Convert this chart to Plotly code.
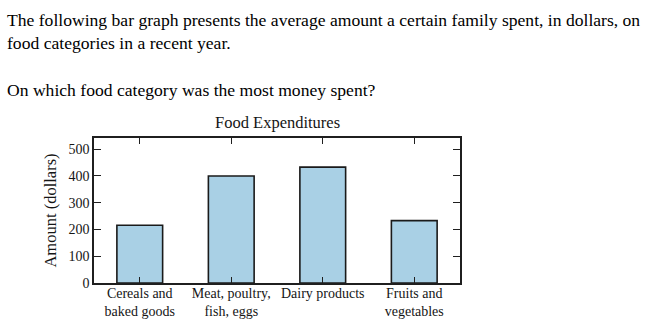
import plotly.graph_objects as go

categories = ["Cereals and<br>baked goods", "Meat, poultry,<br>fish, eggs", "Dairy products", "Fruits and<br>vegetables"]
amounts = [216, 400, 433, 233]
y_ticks = [0, 100, 200, 300, 400, 500]
chart_title = "Food Expenditures"
y_title = "Amount (dollars)"
intro_line1 = "The following bar graph presents the average amount a certain family spent, in dollars, on"
intro_line2 = "food categories in a recent year."
question = "On which food category was the most money spent?"

W, H = 650, 325
L, R, T, B = 94, 460, 138, 283
pw, ph = R - L, B - T

def px_x(x):
    return (x - L) / pw

def px_y(y):
    return (B - y) / ph

serif = "Liberation Serif"
axis_color = "#1f1f1f"
text_color = "#151515"

fig = go.Figure(go.Bar(
    x=list(range(len(categories))),
    y=amounts,
    width=0.5,
    marker=dict(color="#a9d0e5", line=dict(color="#1a1a1a", width=1.6)),
))

fig.update_layout(
    width=W, height=H,
    margin=dict(l=L, r=W - R, t=T, b=H - B, pad=0, autoexpand=False),
    paper_bgcolor="white", plot_bgcolor="white",
    showlegend=False,
    font=dict(family=serif, color=text_color),
)

fig.update_xaxes(
    range=[-0.5, 3.5],
    tickmode="array",
    tickvals=list(range(len(categories))),
    ticktext=categories,
    ticks="inside", ticklen=6, tickwidth=1.3, tickcolor=axis_color,
    showline=True, linecolor=axis_color, linewidth=1.6, mirror="allticks",
    showgrid=False, zeroline=False, automargin=False,
    ticklabelstandoff=-4,
    tickfont=dict(family=serif, size=14, color=text_color),
)
fig.update_yaxes(
    range=[0, 542],
    tickmode="array",
    tickvals=y_ticks,
    ticks="inside", ticklen=7, tickwidth=1.3, tickcolor=axis_color,
    showline=True, linecolor=axis_color, linewidth=1.6, mirror="allticks",
    showgrid=False, zeroline=False, automargin=False,
    tickfont=dict(family=serif, size=14, color=text_color),
    title=dict(text=y_title, font=dict(family=serif, size=16.5, color=text_color), standoff=8),
)

anns = [
    dict(text=chart_title, x=0.5, y=px_y(122.5), xanchor="center", yanchor="middle",
         font=dict(family=serif, size=16.5, color=text_color)),
    dict(text=intro_line1, x=px_x(5), y=px_y(20), xanchor="left", yanchor="middle",
         font=dict(family="Liberation Serif", size=17.6, color="#000000")),
    dict(text=intro_line2, x=px_x(5), y=px_y(43), xanchor="left", yanchor="middle",
         font=dict(family="Liberation Serif", size=17.6, color="#000000")),
    dict(text=question, x=px_x(5), y=px_y(90), xanchor="left", yanchor="middle",
         font=dict(family="Liberation Serif", size=17.6, color="#000000")),
]
for a in anns:
    a.update(xref="paper", yref="paper", showarrow=False)
fig.update_layout(annotations=anns)

fig.write_html("out.html")
